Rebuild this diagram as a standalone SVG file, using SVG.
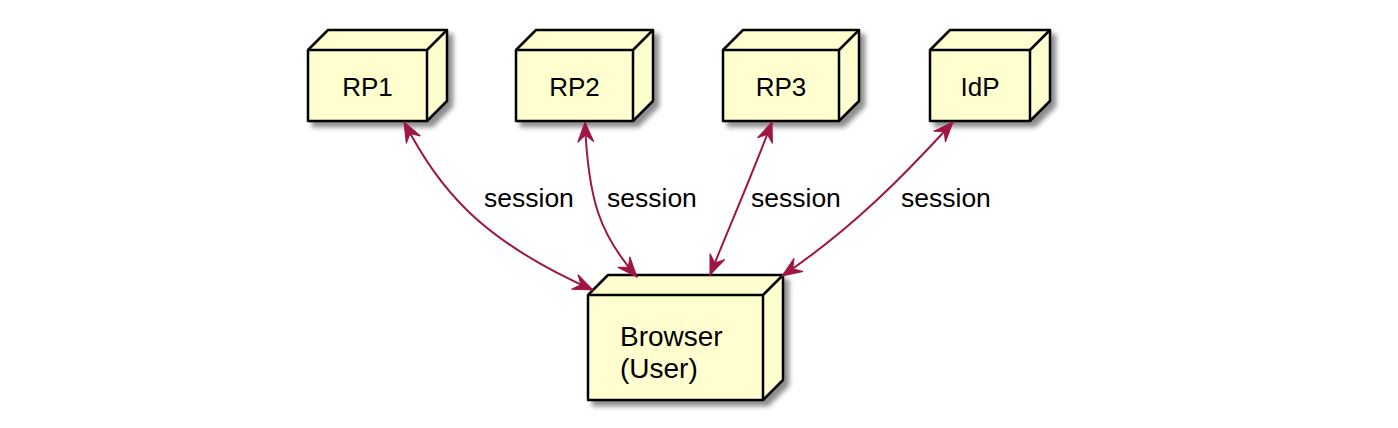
<svg xmlns="http://www.w3.org/2000/svg" width="1398" height="428" viewBox="0 0 1398 428">
<style>
.box{fill:#FEFECE;stroke:#000;stroke-width:2.5;stroke-linejoin:round}
.ln{fill:none;stroke:#000;stroke-width:2.5;stroke-linejoin:round}
.lbl{font-family:"Liberation Sans",Arial,sans-serif;font-size:26px;fill:#000}
.big{font-size:28px}
.el{font-size:26.5px}
.edge{fill:none;stroke:#9E1743;stroke-width:2}
</style>
<defs>
<filter id="sh" x="-20%" y="-20%" width="150%" height="150%">
<feGaussianBlur in="SourceAlpha" stdDeviation="2.5"/>
<feOffset dx="5" dy="5" result="b"/>
<feComponentTransfer><feFuncA type="linear" slope="0.45"/></feComponentTransfer>
<feMerge><feMergeNode/><feMergeNode in="SourceGraphic"/></feMerge>
</filter>
<marker id="ah" markerUnits="userSpaceOnUse" markerWidth="24" markerHeight="20" viewBox="0 -10 24 20" refX="20" refY="0" orient="auto-start-reverse" overflow="visible">
<path d="M0,-8 L20,0 L0,8 L7,0 Z" fill="#9E1743" stroke="#9E1743" stroke-width="1"/>
</marker>
</defs>
<g id="RP1">
<path class="box" filter="url(#sh)" d="M308,50 L328,30 L447,30 L447,101 L427,121 L308,121 Z"/>
<path class="ln" d="M308,50 L427,50 L447,30 M427,50 L427,121"/>
<text class="lbl" x="367.5" y="96" text-anchor="middle">RP1</text>
</g>
<g id="RP2">
<path class="box" filter="url(#sh)" d="M516,50 L536,30 L653,30 L653,101 L633,121 L516,121 Z"/>
<path class="ln" d="M516,50 L633,50 L653,30 M633,50 L633,121"/>
<text class="lbl" x="574.5" y="96" text-anchor="middle">RP2</text>
</g>
<g id="RP3">
<path class="box" filter="url(#sh)" d="M723,50 L743,30 L859,30 L859,101 L839,121 L723,121 Z"/>
<path class="ln" d="M723,50 L839,50 L859,30 M839,50 L839,121"/>
<text class="lbl" x="781" y="96" text-anchor="middle">RP3</text>
</g>
<g id="IdP">
<path class="box" filter="url(#sh)" d="M930,50 L950,30 L1050,30 L1050,101 L1030,121 L930,121 Z"/>
<path class="ln" d="M930,50 L1030,50 L1050,30 M1030,50 L1030,121"/>
<text class="lbl" x="980" y="96" text-anchor="middle">IdP</text>
</g>
<g id="Browser">
<path class="box" filter="url(#sh)" d="M588,295 L608,275 L783,275 L783,380 L763,400 L588,400 Z"/>
<path class="ln" d="M588,295 L763,295 L783,275 M763,295 L763,400"/>
<text class="lbl big" x="620" y="346">Browser</text>
<text class="lbl big" x="620" y="378">(User)</text>
</g>
<g id="connectors">
<path class="edge" d="M404,122 C440,190 480,240 593,290" marker-start="url(#ah)" marker-end="url(#ah)"/>
<path class="edge" d="M585,122 C588,200 600,235 637,277" marker-start="url(#ah)" marker-end="url(#ah)"/>
<path class="edge" d="M772,122 C752,175 730,225 710,275" marker-start="url(#ah)" marker-end="url(#ah)"/>
<path class="edge" d="M953,122 C900,180 850,230 782,276" marker-start="url(#ah)" marker-end="url(#ah)"/>
<text class="lbl el" x="484" y="207">session</text>
<text class="lbl el" x="607" y="207">session</text>
<text class="lbl el" x="751" y="207">session</text>
<text class="lbl el" x="901" y="207">session</text>
</g>
</svg>
